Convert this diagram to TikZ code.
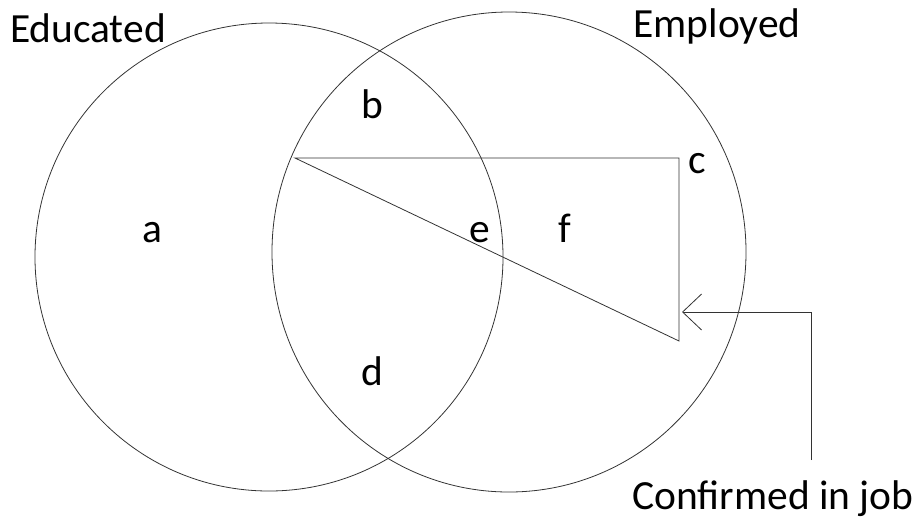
\documentclass[tikz,border=0pt]{standalone}
\usepackage{fontspec}
\setmainfont{Carlito}
\usetikzlibrary{positioning,arrows.meta,calc}
\definecolor{ink}{HTML}{333333}
\definecolor{text}{HTML}{000000}
\begin{document}
\begin{tikzpicture}[x=1pt,y=-1pt,
  set/.style={draw=ink,line width=0.8pt},
  lbl/.style={text=text,anchor=base,inner sep=0pt,font=\fontsize{41.5}{50}\selectfont},
  wire/.style={draw=ink,line width=0.8pt}]
\useasboundingbox (0,0) rectangle (920,523);
\draw[set] (269,257) circle (234);
\draw[set] (509,252) ellipse (237 and 240);
\coordinate (p) at (295,158);\coordinate (q) at (679,158);\coordinate (r) at (679,341);
\draw[wire] (p)--(q)--(r)--cycle;
\node[lbl] (educ) at (88,42){Educated};
\node[lbl] (empl) at (717,37){Employed};
\node[lbl] (a) at (152,242){a};
\node[lbl] (b) at (372,118){b};
\node[lbl] (c) at (697,173){c};
\node[lbl] (d) at (372,385){d};
\node[lbl] (e) at (480,242){e};
\node[lbl] (f) at (565,242){f};
\node[lbl] (job) at (773,509){Confirmed in job};
\coordinate (tip) at (682,312);\coordinate (jobtop) at (811,460);
\draw[wire,-{Straight Barb[length=19pt,width=36pt]}] (jobtop)|-(tip);
\end{tikzpicture}
\end{document}
